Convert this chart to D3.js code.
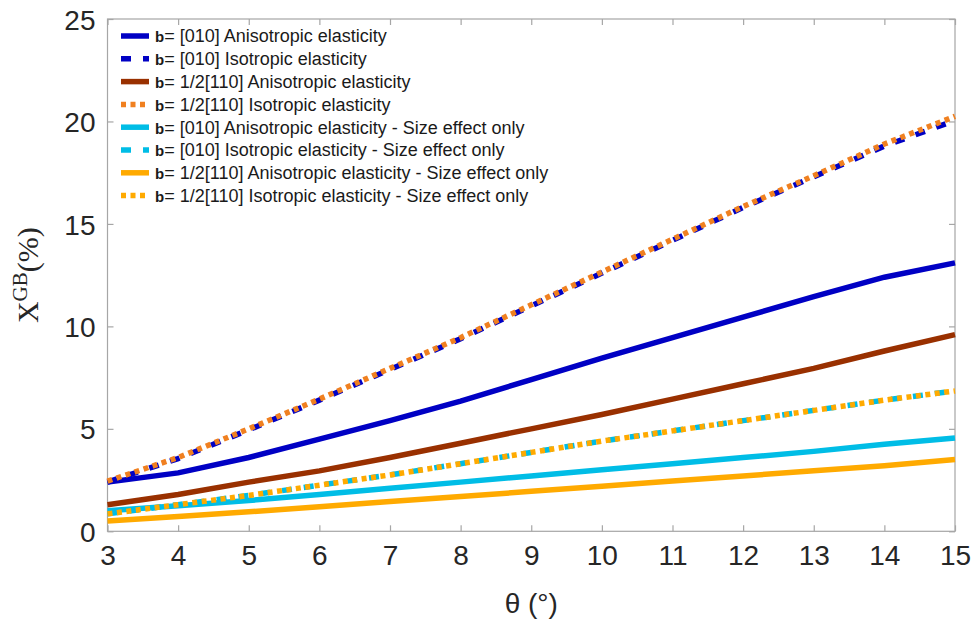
<!DOCTYPE html>
<html><head><meta charset="utf-8">
<script src="https://cdn.jsdelivr.net/npm/d3@7"></script>
<style>body{margin:0;background:#fff}svg{display:block}</style>
</head><body><svg id="c" width="975" height="622"></svg>
<script>
const theta = [3,4,5,6,7,8,9,10,11,12,13,14,15];
const xTicks = [3,4,5,6,7,8,9,10,11,12,13,14,15];
const yTicks = [0,5,10,15,20,25];
const b010Aniso   = [2.4,2.85,3.6,4.5,5.4,6.35,7.4,8.45,9.45,10.45,11.45,12.4,13.1];
const b010Iso     = [2.4,3.55,4.95,6.4,7.9,9.4,11.0,12.6,14.2,15.8,17.3,18.8,20.05];
const b110Aniso   = [1.3,1.8,2.4,2.95,3.6,4.3,5.0,5.7,6.45,7.2,7.95,8.8,9.6];
const b110Iso     = [2.45,3.6,5.0,6.45,7.95,9.45,11.05,12.65,14.25,15.85,17.35,18.9,20.25];
const b010AnisoSz = [1.0,1.25,1.5,1.8,2.1,2.4,2.7,3.0,3.3,3.6,3.9,4.25,4.55];
const b010IsoSz   = [0.85,1.3,1.75,2.25,2.75,3.3,3.85,4.4,4.9,5.4,5.9,6.4,6.85];
const b110AnisoSz = [0.5,0.72,0.95,1.2,1.45,1.7,1.95,2.2,2.45,2.7,2.95,3.2,3.5];
const b110IsoSz   = [0.85,1.3,1.75,2.25,2.75,3.3,3.85,4.4,4.9,5.4,5.9,6.4,6.85];
const labels = [
 "= [010] Anisotropic elasticity",
 "= [010] Isotropic elasticity",
 "= 1/2[110] Anisotropic elasticity",
 "= 1/2[110] Isotropic elasticity",
 "= [010] Anisotropic elasticity - Size effect only",
 "= [010] Isotropic elasticity - Size effect only",
 "= 1/2[110] Anisotropic elasticity - Size effect only",
 "= 1/2[110] Isotropic elasticity - Size effect only"
];
const seriesVals = [b010Aniso,b010Iso,b110Aniso,b110Iso,b010AnisoSz,b010IsoSz,b110AnisoSz,b110IsoSz];
const colors = ["#0000c4","#0000c4","#993000","#f08020","#00bde6","#00bde6","#ffaa00","#ffaa00"];
const dashes = [null,"10,12",null,"5,4.5",null,"10,12",null,"5,4.5"];

const svg = d3.select("#c");
const L=107.5, R=955, T=19, B=531.3;
const x = d3.scaleLinear().domain([3,15]).range([L,R]);
const y = d3.scaleLinear().domain([0,25]).range([B,T]);
const axCol="#a6a6a6", txtCol="#262626", font="'Liberation Sans', Arial, sans-serif";

svg.append("rect").attr("x",L).attr("y",T).attr("width",R-L).attr("height",B-T)
  .attr("fill","none").attr("stroke",axCol).attr("stroke-width",1.2);

const gx = svg.append("g").attr("transform",`translate(0,${B})`)
  .call(d3.axisBottom(x).tickValues(xTicks).tickSize(-6).tickPadding(14).tickFormat(d3.format("d")));
const gxt = svg.append("g").attr("transform",`translate(0,${T})`)
  .call(d3.axisTop(x).tickValues(xTicks).tickSize(-6).tickFormat(""));
const gy = svg.append("g").attr("transform",`translate(${L},0)`)
  .call(d3.axisLeft(y).tickValues(yTicks).tickSize(-6).tickPadding(12).tickFormat(d3.format("d")));
const gyr = svg.append("g").attr("transform",`translate(${R},0)`)
  .call(d3.axisRight(y).tickValues(yTicks).tickSize(-6).tickFormat(""));
[gx,gxt,gy,gyr].forEach(g=>{
  g.select(".domain").remove();
  g.selectAll(".tick line").attr("stroke",axCol).attr("stroke-width",1.2);
  g.selectAll("text").attr("fill",txtCol).style("font-family",font).style("font-size","28px");
});
gx.selectAll("text").attr("dy","0.71em");
gy.selectAll("text").attr("dy","0.36em");

const line = d3.line().x((d,i)=>x(theta[i])).y(d=>y(d));
const gl = svg.append("g");
seriesVals.forEach((vals,i)=>{
  gl.append("path").attr("d",line(vals)).attr("fill","none")
    .attr("stroke",colors[i]).attr("stroke-width",5.5)
    .attr("stroke-dasharray",dashes[i]);
});

const lg = svg.append("g");
labels.forEach((lab,i)=>{
  const yy = 36 + i*22.8;
  lg.append("line").attr("x1",121).attr("x2",149).attr("y1",yy).attr("y2",yy)
    .attr("stroke",colors[i]).attr("stroke-width",5.5).attr("stroke-dasharray",dashes[i]);
  const t = lg.append("text").attr("x",155).attr("y",yy).attr("dy","0.35em")
    .style("font-family",font).style("font-size","18px").attr("fill","#1a1a1a");
  t.append("tspan").attr("font-weight","bold").style("font-size","15px").text("b");
  t.append("tspan").text(lab);
});

svg.append("text").attr("x",(L+R)/2).attr("y",603).attr("text-anchor","middle")
  .attr("dy","0.35em").style("font-family",font).style("font-size","28px").attr("fill",txtCol)
  .text("θ (°)");
const yl = svg.append("text").attr("transform",`translate(38,${(T+B)/2}) rotate(-90)`)
  .attr("text-anchor","middle").style("font-family","'Liberation Serif', 'Times New Roman', serif")
  .style("font-size","30px").attr("fill",txtCol);
yl.append("tspan").text("X");
yl.append("tspan").attr("dy","-11").style("font-size","21px").text("GB");
yl.append("tspan").attr("dy","11").text("(%)");
</script></body></html>
